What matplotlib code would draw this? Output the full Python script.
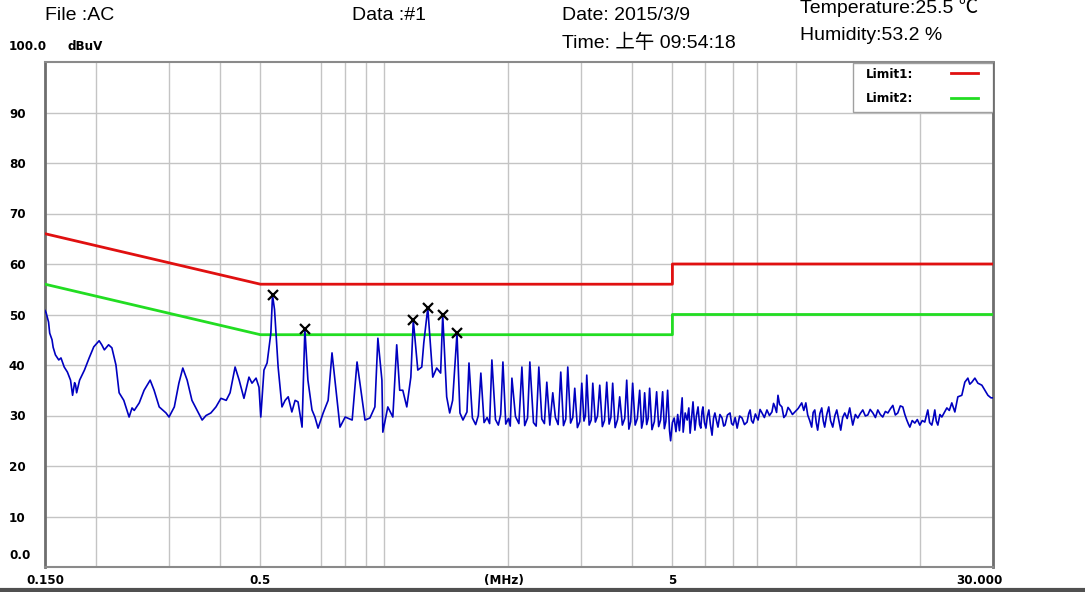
import numpy as np
import matplotlib.pyplot as plt
from matplotlib.transforms import ScaledTranslation
from matplotlib.lines import Line2D
from matplotlib.patches import Rectangle


# header info
file_name = 'AC'
data_no = '#1'
date_str = '2015/3/9'
time_str = '上午 09:54:18'
temperature = '25.5'
humidity = '53.2'

# limit lines (MHz, dBuV)
limit1_freq = [0.15, 0.5, 5, 5, 30]
limit1_level = [66, 56, 56, 60, 60]
limit2_freq = [0.15, 0.5, 5, 5, 30]
limit2_level = [56, 46, 46, 50, 50]

# marked peaks
peak_freq = [0.535, 0.641, 1.175, 1.274, 1.385, 1.500]
peak_level = [53.8, 47.1, 48.9, 51.3, 49.9, 46.3]

trace_freq = [
    0.150, 0.151, 0.153, 0.154, 0.156, 0.157, 0.159, 0.162, 0.164, 0.167,
    0.170, 0.173, 0.175, 0.177, 0.178, 0.179, 0.182, 0.187, 0.192, 0.197,
    0.203, 0.206, 0.209, 0.214, 0.218, 0.223, 0.227, 0.233, 0.240, 0.244,
    0.247, 0.254, 0.261, 0.270, 0.276, 0.284, 0.295, 0.300, 0.309, 0.317,
    0.324, 0.332, 0.341, 0.351, 0.361, 0.369, 0.379, 0.390, 0.401, 0.413,
    0.422, 0.434, 0.444, 0.456, 0.469, 0.477, 0.488, 0.496, 0.501, 0.510,
    0.519, 0.530, 0.535, 0.541, 0.552, 0.564, 0.574, 0.584, 0.596, 0.607,
    0.617, 0.631, 0.641, 0.652, 0.667, 0.678, 0.690, 0.710, 0.730, 0.746,
    0.763, 0.780, 0.803, 0.835, 0.858, 0.877, 0.897, 0.922, 0.948, 0.964,
    0.986, 0.991, 1.019, 1.048, 1.071, 1.089, 1.108, 1.133, 1.159, 1.175,
    1.205, 1.232, 1.246, 1.274, 1.310, 1.339, 1.369, 1.385, 1.416, 1.440,
    1.464, 1.500, 1.525, 1.551, 1.586,
    # harmonic comb 1.6 - 5 MHz
    1.604, 1.635, 1.665, 1.69, 1.714, 1.745, 1.775, 1.80, 1.823, 1.86,
    1.89, 1.915, 1.939, 1.97, 2.00, 2.02, 2.039, 2.08, 2.12, 2.156,
    2.19, 2.225, 2.254, 2.30, 2.335, 2.370, 2.41, 2.445, 2.478, 2.52,
    2.562, 2.60, 2.64, 2.679, 2.72, 2.755, 2.786, 2.83, 2.865, 2.897,
    2.94, 2.98, 3.013, 3.05, 3.075, 3.098, 3.14, 3.175, 3.204, 3.25,
    3.29, 3.331, 3.38, 3.42, 3.464, 3.51, 3.545, 3.581, 3.63, 3.68,
    3.724, 3.78, 3.83, 3.873, 3.92, 3.96, 4.004, 4.06, 4.11, 4.164,
    4.21, 4.245, 4.281, 4.33, 4.365, 4.402, 4.46, 4.52, 4.578, 4.63,
    4.68, 4.734, 4.78, 4.82, 4.868, 4.92, 4.95, 5.00,
    # 5 - 30 MHz
    5.05, 5.10, 5.15, 5.20, 5.28, 5.31, 5.37, 5.43, 5.48, 5.52,
    5.57, 5.61, 5.67, 5.72, 5.77, 5.82, 5.86, 5.90, 5.93, 5.98,
    6.03, 6.08, 6.13, 6.18, 6.24, 6.29, 6.34, 6.40, 6.45, 6.52,
    6.60, 6.66, 6.71, 6.80, 6.90, 6.96, 7.02, 7.10, 7.18, 7.28,
    7.38, 7.48, 7.59, 7.66, 7.72, 7.78, 7.85, 7.95, 8.07, 8.16,
    8.25, 8.36, 8.48, 8.60, 8.72, 8.80, 8.87, 8.95, 9.02, 9.10,
    9.22, 9.32, 9.43, 9.54, 9.64, 9.78, 9.91, 10.10, 10.30, 10.42,
    10.54, 10.65, 10.77, 10.89, 10.98, 11.08, 11.17, 11.26, 11.40, 11.52,
    11.62, 11.71, 11.85, 11.98, 12.10, 12.25, 12.40, 12.53, 12.67, 12.81,
    12.95, 13.10, 13.28, 13.47, 13.58, 13.70, 13.90, 14.09, 14.29, 14.49,
    14.70, 14.90, 15.10, 15.33, 15.55, 15.76, 15.98, 16.20, 16.44, 16.67,
    16.90, 17.14, 17.38, 17.62, 17.87, 18.12, 18.33, 18.53, 18.70, 18.85,
    19.10, 19.38, 19.65, 19.93, 20.20, 20.49, 20.84, 21.05, 21.31, 21.50,
    21.67, 21.85, 22.04, 22.30, 22.54, 22.85, 23.18, 23.50, 23.83, 24.24,
    24.65, 25.20, 25.63, 26.07, 26.35, 26.66, 27.11, 27.57, 28.19, 28.67,
    29.16, 29.66, 30.0,
]
trace_level = [
    50.8, 50.3, 48.5, 46.3, 45.0, 43.5, 42.0, 41.0, 41.4, 39.6,
    38.6, 37.0, 34.0, 36.5, 36.0, 34.5, 37.0, 39.0, 41.4, 43.6,
    44.8, 44.0, 43.0, 44.0, 43.4, 40.0, 34.5, 33.0, 29.7, 31.5,
    31.0, 32.5, 35.0, 37.0, 35.0, 31.7, 30.5, 29.7, 31.7, 36.4,
    39.4, 37.0, 33.0, 31.0, 29.1, 30.0, 30.5, 31.7, 33.4, 33.0,
    34.5, 39.6, 37.0, 33.4, 37.6, 36.4, 37.4, 35.6, 29.7, 39.0,
    40.4, 46.3, 53.8, 51.0, 39.6, 31.7, 33.0, 33.7, 30.7, 33.0,
    32.7, 27.7, 47.1, 37.0, 31.1, 29.7, 27.5, 30.5, 33.0, 42.4,
    35.0, 27.7, 29.7, 29.1, 40.6, 35.0, 29.1, 29.5, 31.7, 45.3,
    37.0, 26.7, 31.7, 29.7, 44.0, 35.0, 35.0, 31.7, 37.6, 48.9,
    39.0, 39.6, 44.4, 51.3, 37.6, 39.4, 38.4, 49.9, 33.7, 30.5,
    33.0, 46.3, 30.5, 29.1, 30.7,
    40.4, 29.5, 28.2, 30.0, 38.4, 28.6, 29.6, 28.4, 41.0, 29.2,
    28.1, 30.2, 40.6, 28.3, 29.4, 27.9, 37.4, 29.8, 28.4, 39.6,
    28.0, 29.5, 40.6, 28.6, 27.9, 39.6, 29.3, 28.4, 36.6, 28.1,
    34.5, 29.6, 28.2, 38.6, 28.0, 29.3, 39.6, 28.5, 29.6, 35.4,
    27.6, 28.8, 36.4, 28.9, 30.0, 38.0, 28.1, 29.1, 36.4, 28.7,
    29.9, 36.0, 27.8, 29.0, 36.6, 28.3, 29.6, 36.4, 27.6, 29.2,
    33.7, 28.1, 29.4, 37.0, 27.3, 28.8, 36.4, 28.1, 29.4, 35.0,
    27.5, 28.9, 34.5, 28.2, 29.4, 35.4, 27.2, 28.8, 34.7, 27.8,
    29.1, 34.7, 27.4, 28.8, 35.0, 27.0, 25.0, 28.6,
    29.5, 26.8, 30.2, 27.0, 33.5, 26.7, 30.5, 29.1, 31.5, 26.5,
    29.8, 32.7, 27.1, 30.0, 31.7, 28.2, 27.5, 30.8, 31.7, 28.6,
    27.5, 29.9, 31.1, 28.3, 26.1, 29.4, 30.5, 28.9, 27.7, 30.2,
    29.5, 27.9, 28.1, 30.1, 30.5, 28.4, 28.1, 29.6, 27.5, 29.9,
    29.5, 28.2, 28.7, 30.4, 31.1, 29.0, 28.5, 30.3, 29.1, 31.2,
    30.5, 29.6, 31.1, 30.0, 30.7, 32.4, 31.7, 30.6, 34.0, 32.2,
    31.7, 29.6, 30.1, 31.6, 31.1, 30.2, 30.7, 31.4, 32.5, 31.0,
    32.5, 30.1, 29.0, 27.7, 30.6, 31.1, 28.6, 27.1, 30.4, 31.5,
    28.9, 27.7, 30.2, 31.7, 29.0, 27.7, 30.0, 31.1, 29.1, 27.1,
    29.6, 30.5, 29.4, 31.5, 29.8, 28.1, 30.2, 29.5, 30.4, 31.1,
    29.9, 30.1, 31.2, 30.5, 29.6, 31.1, 30.2, 29.7, 30.8, 30.5,
    31.3, 32.0, 30.1, 30.5, 31.9, 31.7, 30.2, 29.1, 28.3, 27.7,
    29.0, 28.5, 29.2, 28.1, 29.0, 28.7, 31.1, 28.6, 28.1, 29.5,
    31.1, 28.9, 28.1, 30.2, 29.7, 30.6, 31.5, 31.0, 32.5, 30.7,
    33.7, 34.0, 36.6, 37.4, 36.2, 36.6, 37.4, 36.4, 36.0, 35.0,
    34.0, 33.5, 33.5,
]

grid_freq = [0.2, 0.3, 0.4, 0.5, 0.7, 0.8, 0.9, 1, 2, 3, 4, 5, 6, 7, 8, 10, 20]
xtick_freq = [0.15, 0.5, 1.95, 5, 30]
xtick_labels = ['0.150', '0.5', '(MHz)', '5', '30.000']
ytick_level = [0, 10, 20, 30, 40, 50, 60, 70, 80, 90, 100]
ytick_labels = ['0.0', '10', '20', '30', '40', '50', '60', '70', '80', '90', '100.0']

narrow = ['Liberation Sans Narrow', 'DejaVu Sans']
head = ['Liberation Sans', 'Noto Sans CJK SC', 'DejaVu Sans']


fig = plt.figure(figsize=(10.85, 5.92), dpi=100)
ax = fig.add_axes([45/1085, 1-567/592, 948/1085, 505/592])

ax.set_xscale('log')
ax.set_xlim(0.15, 30)
ax.set_ylim(0, 100)

# grid
for g in grid_freq:
    ax.axvline(g, color='#c4c4c4', lw=1, zorder=0)
for lv in ytick_level[1:-1]:
    ax.axhline(lv, color='#c4c4c4', lw=1, zorder=0)

# limits and trace
ax.plot(limit1_freq, limit1_level, color='#e01010', lw=2, label='Limit1:', zorder=3)
ax.plot(limit2_freq, limit2_level, color='#22dd22', lw=2, label='Limit2:', zorder=3)
ax.plot(trace_freq, trace_level, color='#0000c0', lw=1.2, zorder=4)
ax.plot(peak_freq, peak_level, 'x', color='black', ms=7, mew=1.6, zorder=5)

# ticks
ax.minorticks_off()
ax.set_xticks(xtick_freq)
ax.set_xticklabels(xtick_labels, fontfamily=narrow, fontweight='bold', fontsize=9.5,
                   fontstretch='condensed')
ax.set_yticks(ytick_level)
ax.set_yticklabels(ytick_labels, fontfamily=narrow, fontweight='bold', fontsize=9.5,
                   fontstretch='condensed', ha='left')
ax.tick_params(axis='x', length=0, pad=5)
ax.tick_params(axis='y', length=0, pad=26)

lbls = ax.get_xticklabels()
lbls[-1].set_transform(lbls[-1].get_transform() + ScaledTranslation(-0.14, 0, fig.dpi_scale_trans))
ylbls = ax.get_yticklabels()
ylbls[0].set_transform(ylbls[0].get_transform() + ScaledTranslation(0, 0.13, fig.dpi_scale_trans))
ylbls[-1].set_transform(ylbls[-1].get_transform() + ScaledTranslation(0, 0.17, fig.dpi_scale_trans))

for s in ['left', 'right']:
    ax.spines[s].set_color('#6e6e6e')
    ax.spines[s].set_linewidth(2)
for s in ['top', 'bottom']:
    ax.spines[s].set_color('#8a8a8a')
    ax.spines[s].set_linewidth(1.5)

# legend box in the upper right corner
ax.add_patch(Rectangle((0.8523, 0.901), 0.1477, 0.097, transform=ax.transAxes,
                       facecolor='white', edgecolor='#a0a0a0', lw=1, zorder=6))
leg = ax.legend(loc='upper left', bbox_to_anchor=(0.866, 0.988), markerfirst=False,
                frameon=False, borderaxespad=0, borderpad=0, handlelength=2.05,
                handletextpad=2.85, labelspacing=0.85,
                prop={'family': narrow, 'weight': 'bold', 'size': 9.5, 'stretch': 'condensed'})
leg.set_zorder(7)

# header text
fig.text(68/1085, 1-47/592, 'dBuV', fontfamily=narrow, fontweight='bold', fontsize=9.5,
         fontstretch='condensed', va='center')
fig.text(45/1085, 1-15/592, 'File :' + file_name, fontfamily=head, fontsize=14, va='center')
fig.text(352/1085, 1-15/592, 'Data :' + data_no, fontfamily=head, fontsize=14, va='center')
fig.text(562/1085, 1-16/592, 'Date: ' + date_str, fontfamily=head, fontsize=14, va='center')
fig.text(562/1085, 1-43/592, 'Time: ' + time_str, fontfamily=head, fontsize=14, va='center')
fig.text(800/1085, 1-8/592, 'Temperature:' + temperature + ' ℃', fontfamily=head, fontsize=14, va='center')
fig.text(800/1085, 1-35/592, 'Humidity:' + humidity + ' %', fontfamily=head, fontsize=14, va='center')

# bottom border of the window
fig.add_artist(Line2D([0, 1], [1-590/592, 1-590/592], transform=fig.transFigure, color='#505050', lw=3))

fig.savefig('out.png', dpi=100, facecolor='white')
